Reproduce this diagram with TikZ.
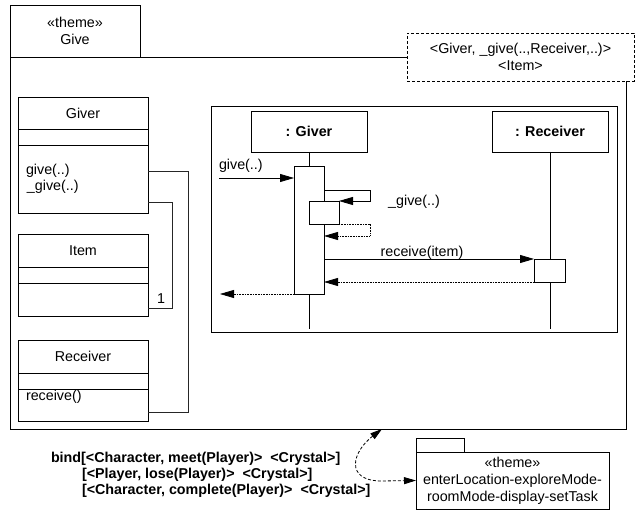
\documentclass[tikz,border=0pt]{standalone}
\usepackage{fontspec}
\setmainfont{Liberation Sans}
\usetikzlibrary{arrows.meta,calc}
\begin{document}
\begin{tikzpicture}[x=1pt,y=-1pt, line width=0.8pt,
  every node/.style={font=\fontsize{14.3}{17}\selectfont, inner sep=0pt, outer sep=0pt},
  boxnw/.style={draw, anchor=north west},
  conn/.style={draw=black!85},
  msg/.style={-{Triangle[length=14pt,width=8pt]}},
  ret/.style={dash pattern=on 1pt off 0.6pt, -{Triangle[length=14pt,width=8pt]}},
  bindarrow/.style={dash pattern=on 3pt off 2pt, {Triangle[length=12pt,width=7pt]}-{Triangle[length=12pt,width=7pt]}},
  boldtext/.style={font=\fontsize{14.3}{17}\selectfont\bfseries}]
\useasboundingbox (0,0) rectangle (635,510);

% outer theme frame
\node[boxnw, minimum width=616, minimum height=372] (frame) at (10,57) {};
\node[boxnw, minimum width=130, minimum height=52, align=center] (tab) at (10,5) {«theme»\\Give};
\node[boxnw, fill=white, dash pattern=on 3pt off 2pt, minimum width=227, minimum height=48, align=center] (params) at (407,33) {<Giver, \_give(..,Receiver,..)>\\<Item>};

% class Giver
\node[boxnw, minimum width=130, minimum height=116] (giver) at (18,97) {};
\draw ([yshift=-32pt]giver.north west) -- ([yshift=-32pt]giver.north east);
\draw ([yshift=-48pt]giver.north west) -- ([yshift=-48pt]giver.north east);
\node (givername) at ([yshift=-16pt]giver.north) {Giver};
\node[anchor=west] (giverop1) at (26,171) {give(..)};
\node[anchor=west] (giverop2) at (27,187) {\_give(..)};

% class Item
\node[boxnw, minimum width=130, minimum height=82] (item) at (18,234) {};
\draw ([yshift=-33pt]item.north west) -- ([yshift=-33pt]item.north east);
\draw ([yshift=-49pt]item.north west) -- ([yshift=-49pt]item.north east);
\node (itemname) at ([yshift=-17pt]item.north) {Item};

% class Receiver
\node[boxnw, minimum width=130, minimum height=81] (receiver) at (18,340) {};
\draw ([yshift=-33pt]receiver.north west) -- ([yshift=-33pt]receiver.north east);
\draw ([yshift=-49pt]receiver.north west) -- ([yshift=-49pt]receiver.north east);
\node (receivername) at ([yshift=-16pt]receiver.north) {Receiver};
\node[anchor=west] (receiverop) at (26,397) {receive()};

% associations
\draw[conn] ([yshift=-74pt]giver.north east) -- ++(40,0) |- ([yshift=9pt]receiver.south east);
\draw[conn] ([yshift=11pt]giver.south east) -- ++(24,0) |- ([yshift=8pt]item.south east);
\node (one) at (161,299) {1};

% sequence diagram
\node[boxnw, minimum width=406, minimum height=226] (sd) at (211,106) {};
\node[boxnw, minimum width=116, minimum height=41, boldtext] (lg) at (251,111) {: Giver};
\node[boxnw, minimum width=116, minimum height=41, boldtext] (lr) at (492,111) {: Receiver};
\coordinate (lgend) at (309,329);
\coordinate (lrend) at (550,329);
\draw (lg.south) -- (lgend);
\draw (lr.south) -- (lrend);
\node[boxnw, fill=white, minimum width=30, minimum height=128] (a1) at (294,166) {};
\node[boxnw, fill=white, minimum width=30, minimum height=23] (a2) at (309,201) {};
\node[boxnw, fill=white, minimum width=31, minimum height=23] (a3) at (534,259) {};

\coordinate (gstart) at (219,178);
\draw[msg] (gstart) -- (gstart -| a1.west);
\node[anchor=west] (glabel) at (219,166) {give(..)};

\draw[msg] ([yshift=-24pt]a1.north east) -- ++(46,0) |- (a2.north east);
\node (sublabel) at (414,202) {\_give(..)};
\draw[ret] (a2.south east) -- ++(31,0) |- ([yshift=-70pt]a1.north east);

\draw[msg] (a1.east |- a3.north west) -- (a3.north west);
\node[anchor=base] (rlabel) at (422,257) {receive(item)};
\draw[ret] (a3.south west) -- (a3.south west -| a1.east);

\coordinate (outend) at (220,294);
\draw[ret] (a1.south west) -- (outend);

% bound theme
\node[boxnw, minimum width=48, minimum height=14] (ttab) at (416,438) {};
\node[boxnw, minimum width=193, minimum height=57, align=center] (themebox) at (416,452) {«theme»\\enterLocation-exploreMode-\\roomMode-display-setTask};

\node[anchor=west, boldtext] (bind1) at (51,459) {bind[<Character, meet(Player)>\ \ <Crystal>]};
\node[anchor=west, boldtext] (bind2) at (82,475) {[<Player, lose(Player)>\ \ <Crystal>]};
\node[anchor=west, boldtext] (bind3) at (82,491) {[<Character, complete(Player)>\ \ <Crystal>]};

\coordinate (bindtip) at (382,429);
\draw[bindarrow] (bindtip) .. controls (352,452) and (345,480) .. (380,481) -- (themebox.west);
\end{tikzpicture}
\end{document}
